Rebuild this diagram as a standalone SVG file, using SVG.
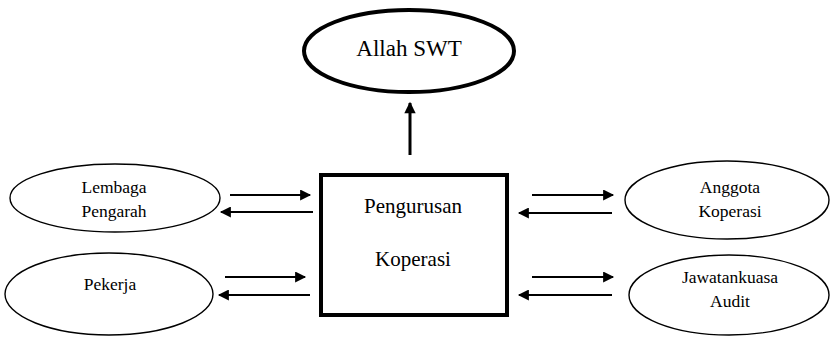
<svg xmlns="http://www.w3.org/2000/svg" width="833" height="338" viewBox="0 0 833 338">
<style>
text{font-family:"Liberation Serif","Times New Roman",serif;fill:#000;text-anchor:middle}
.e{fill:#fff;stroke:#000;stroke-width:1.4}
.c{stroke:#000;stroke-width:2;fill:none}
.s{font-size:17.5px}
</style>
<defs>
<marker id="ah" viewBox="0 0 10 10" refX="9" refY="5" markerWidth="6" markerHeight="5.5" orient="auto" markerUnits="strokeWidth">
<path d="M0,0 L10,5 L0,10 z" fill="#000"/>
</marker>
<marker id="ahu" viewBox="0 0 10 10" refX="9" refY="5" markerWidth="4.3" markerHeight="3.8" orient="auto" markerUnits="strokeWidth">
<path d="M0,0 L10,5 L0,10 z" fill="#000"/>
</marker>
</defs>
<rect width="833" height="338" fill="#fff"/>
<g id="allah">
<ellipse cx="409" cy="51" rx="105" ry="41" fill="#fff" stroke="#000" stroke-width="4"/>
<text x="409" y="56" font-size="23">Allah SWT</text>
</g>
<g id="pengurusan">
<rect x="321" y="175" width="186" height="140" fill="#fff" stroke="#000" stroke-width="4"/>
<text x="413" y="213" font-size="21">Pengurusan</text>
<text x="413" y="266" font-size="21">Koperasi</text>
</g>
<g id="lembaga">
<ellipse class="e" cx="115" cy="198" rx="105" ry="34"/>
<text class="s" x="114" y="193">Lembaga</text>
<text class="s" x="114" y="217">Pengarah</text>
</g>
<g id="pekerja">
<ellipse class="e" cx="109" cy="294" rx="104" ry="41"/>
<text class="s" x="110" y="290">Pekerja</text>
</g>
<g id="anggota">
<ellipse class="e" cx="727" cy="200" rx="102" ry="39"/>
<text class="s" x="730" y="193">Anggota</text>
<text class="s" x="730" y="217">Koperasi</text>
</g>
<g id="jawatankuasa">
<ellipse class="e" cx="729" cy="295" rx="100" ry="40"/>
<text class="s" x="730" y="283">Jawatankuasa</text>
<text class="s" x="730" y="307">Audit</text>
</g>
<g id="connectors">
<line x1="410" y1="155" x2="410" y2="103" stroke="#000" stroke-width="3" marker-end="url(#ahu)"/>
<line class="c" x1="230" y1="195" x2="310" y2="195" marker-end="url(#ah)"/>
<line class="c" x1="313" y1="212" x2="221" y2="212" marker-end="url(#ah)"/>
<line class="c" x1="225" y1="277" x2="305" y2="277" marker-end="url(#ah)"/>
<line class="c" x1="310" y1="295" x2="219" y2="295" marker-end="url(#ah)"/>
<line class="c" x1="532" y1="195" x2="613" y2="195" marker-end="url(#ah)"/>
<line class="c" x1="612" y1="213" x2="519" y2="213" marker-end="url(#ah)"/>
<line class="c" x1="532" y1="277" x2="613" y2="277" marker-end="url(#ah)"/>
<line class="c" x1="612" y1="295" x2="519" y2="295" marker-end="url(#ah)"/>
</g>
</svg>
